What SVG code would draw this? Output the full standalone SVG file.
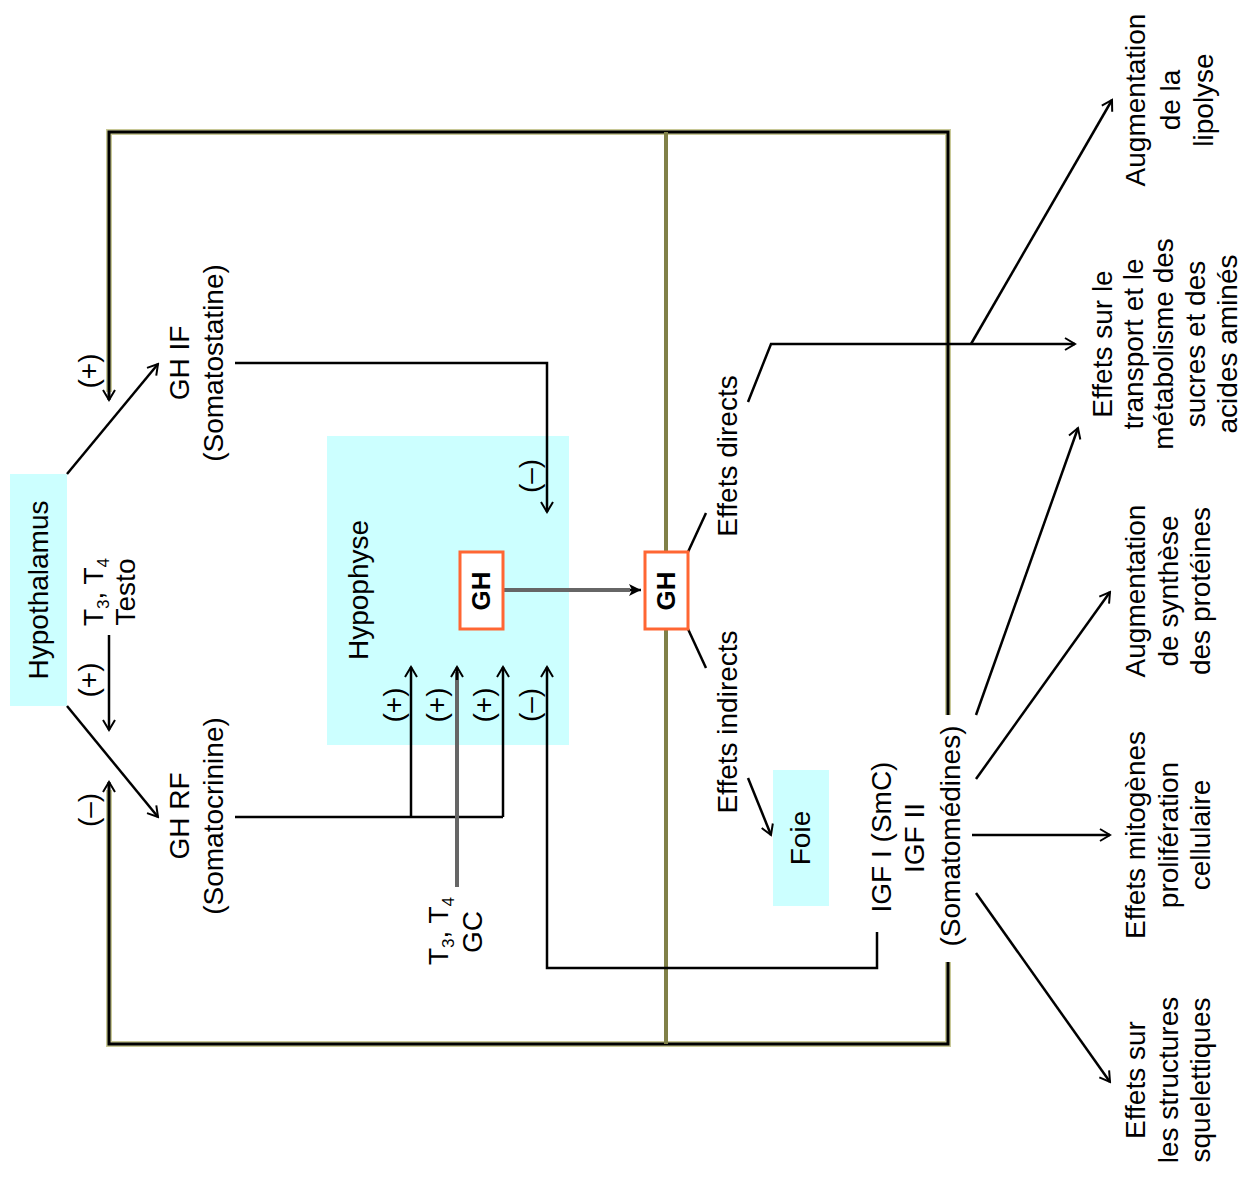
<svg xmlns="http://www.w3.org/2000/svg" width="1254" height="1184" viewBox="0 0 1254 1184">
<style>
text{font-family:"Liberation Sans",Arial,sans-serif;font-size:28px;fill:#000;text-anchor:middle}
.b{font-weight:bold;font-size:26px}
.sub{font-size:17px}
.c{fill:none;stroke:#000;stroke-width:2.5}
.cg{fill:none;stroke:#666;stroke-width:4}
.fk{fill:none;stroke:#c8c896;stroke-width:6}
.fb{fill:none;stroke:#000;stroke-width:3}
.ol{fill:none;stroke:#808048;stroke-width:4}
.cy{fill:#ccffff}
.gh{fill:#fff;stroke:#ff6633;stroke-width:3}
</style>
<defs>
<marker id="a" viewBox="-12 -8 14 16" markerWidth="14" markerHeight="16" refX="0" refY="0" orient="auto" markerUnits="userSpaceOnUse">
<path d="M-10,-6 L0,0 L-10,6" fill="none" stroke="#000" stroke-width="2"/>
</marker>
<marker id="af" viewBox="-14 -8 16 16" markerWidth="16" markerHeight="16" refX="0" refY="0" orient="auto" markerUnits="userSpaceOnUse">
<path d="M-12,-6 L0,0 L-12,6 L-9,0 Z" fill="#000"/>
</marker>
</defs>
<rect width="1254" height="1184" fill="#fff"/>

<g id="hypothalamus">
<rect class="cy" x="10" y="474" width="57" height="232"/>
<text transform="translate(38,590) rotate(-90)" y="10">Hypothalamus</text>
</g>

<g id="ghif">
<text transform="translate(179,363) rotate(-90)" y="10">GH IF</text>
<text transform="translate(213,363) rotate(-90)" y="10">(Somatostatine)</text>
</g>

<g id="ghrf">
<text transform="translate(179,816) rotate(-90)" y="10">GH RF</text>
<text transform="translate(213,816) rotate(-90)" y="10">(Somatocrinine)</text>
</g>

<g id="t3t4-testo">
<text transform="translate(93,592) rotate(-90)" y="10">T<tspan class="sub" dy="6">3</tspan><tspan dy="-6">, T</tspan><tspan class="sub" dy="6">4</tspan></text>
<text transform="translate(125,592) rotate(-90)" y="10">Testo</text>
</g>

<g id="signs-left">
<text transform="translate(88,371) rotate(-90)" y="10">(+)</text>
<text transform="translate(88,680) rotate(-90)" y="10">(+)</text>
<text transform="translate(88,810) rotate(-90)" y="10">(–)</text>
</g>

<g id="hypophyse">
<rect class="cy" x="327" y="436" width="242" height="309"/>
<text transform="translate(358,590) rotate(-90)" y="10">Hypophyse</text>
<text transform="translate(529,476) rotate(-90)" y="10">(–)</text>
<text transform="translate(393,705) rotate(-90)" y="10">(+)</text>
<text transform="translate(436,705) rotate(-90)" y="10">(+)</text>
<text transform="translate(483,705) rotate(-90)" y="10">(+)</text>
<text transform="translate(529,705) rotate(-90)" y="10">(–)</text>
</g>

<g id="t3t4-gc">
<text transform="translate(438,931) rotate(-90)" y="10">T<tspan class="sub" dy="6">3</tspan><tspan dy="-6">, T</tspan><tspan class="sub" dy="6">4</tspan></text>
<text transform="translate(472,932) rotate(-90)" y="10">GC</text>
</g>

<g id="effets-directs">
<text transform="translate(727,456) rotate(-90)" y="10">Effets directs</text>
</g>

<g id="effets-indirects">
<text transform="translate(727,722) rotate(-90)" y="10">Effets indirects</text>
</g>

<g id="foie">
<rect class="cy" x="773" y="770" width="56" height="136"/>
<text transform="translate(800,838) rotate(-90)" y="10">Foie</text>
</g>

<g id="igf">
<text transform="translate(881,837) rotate(-90)" y="10">IGF I (SmC)</text>
<text transform="translate(914,838) rotate(-90)" y="10">IGF II</text>
<text transform="translate(950,836) rotate(-90)" y="10">(Somatomédines)</text>
</g>

<g id="lipolyse">
<text transform="translate(1135,100) rotate(-90)"><tspan x="0" y="10">Augmentation</tspan><tspan x="0" y="45">de la</tspan><tspan x="0" y="78">lipolyse</tspan></text>
</g>

<g id="transport">
<text transform="translate(1102,344) rotate(-90)"><tspan x="0" y="10">Effets sur le</tspan><tspan x="0" y="41">transport et le</tspan><tspan x="0" y="71">métabolisme des</tspan><tspan x="0" y="103">sucres et des</tspan><tspan x="0" y="135">acides aminés</tspan></text>
</g>

<g id="proteines">
<text transform="translate(1135,591) rotate(-90)"><tspan x="0" y="10">Augmentation</tspan><tspan x="0" y="43">de synthèse</tspan><tspan x="0" y="75">des protéines</tspan></text>
</g>

<g id="mitogenes">
<text transform="translate(1135,835) rotate(-90)"><tspan x="0" y="10">Effets mitogènes</tspan><tspan x="0" y="43">prolifération</tspan><tspan x="0" y="75">cellulaire</tspan></text>
</g>

<g id="squelettiques">
<text transform="translate(1135,1080) rotate(-90)"><tspan x="0" y="10">Effets sur</tspan><tspan x="0" y="43">les structures</tspan><tspan x="0" y="75">squelettiques</tspan></text>
</g>

<g id="connectors">
<path class="fk" d="M948,715 V132 H109 V392"/>
<path class="fk" d="M948,962 V1044 H109 V790"/>
<path class="fb" d="M948,715 V132 H109 V400" marker-end="url(#a)"/>
<path class="fb" d="M948,962 V1044 H109 V782" marker-end="url(#a)"/>
<path class="ol" d="M666,132 V1044"/>
<path class="c" d="M67,474 L158,364" marker-end="url(#a)"/>
<path class="c" d="M67,706 L158,817" marker-end="url(#a)"/>
<path class="c" d="M109,635 V730" marker-end="url(#a)"/>
<path class="c" d="M235,363 H547 V512" marker-end="url(#a)"/>
<path class="c" d="M235,817 H503"/>
<path class="c" d="M411,817 V667" marker-end="url(#a)"/>
<path class="c" d="M503,817 V667" marker-end="url(#a)"/>
<path class="cg" d="M457,887 V672"/>
<path class="c" d="M457,680 V667" marker-end="url(#a)"/>
<path class="c" d="M877,932 V968 H547 V667" marker-end="url(#a)"/>
<path class="cg" d="M503,590 H630"/>
<path class="c" d="M630,590 H641" marker-end="url(#af)"/>
<path class="c" d="M688,552 L706,513"/>
<path class="c" d="M748,402 L771,344 H1075" marker-end="url(#a)"/>
<path class="c" d="M971,344 L1112,100" marker-end="url(#a)"/>
<path class="c" d="M688,629 L706,668"/>
<path class="c" d="M748,778 L771,835" marker-end="url(#a)"/>
<path class="c" d="M976,715 L1078,428" marker-end="url(#a)"/>
<path class="c" d="M976,779 L1110,592" marker-end="url(#a)"/>
<path class="c" d="M972,835 H1110" marker-end="url(#a)"/>
<path class="c" d="M976,893 L1110,1082" marker-end="url(#a)"/>
</g>

<g id="gh-pituitary">
<rect class="gh" x="460" y="552" width="43" height="77"/>
<text class="b" transform="translate(481,591) rotate(-90)" y="9">GH</text>
</g>

<g id="gh-blood">
<rect class="gh" x="645" y="552" width="43" height="77"/>
<text class="b" transform="translate(666,591) rotate(-90)" y="9">GH</text>
</g>
</svg>
